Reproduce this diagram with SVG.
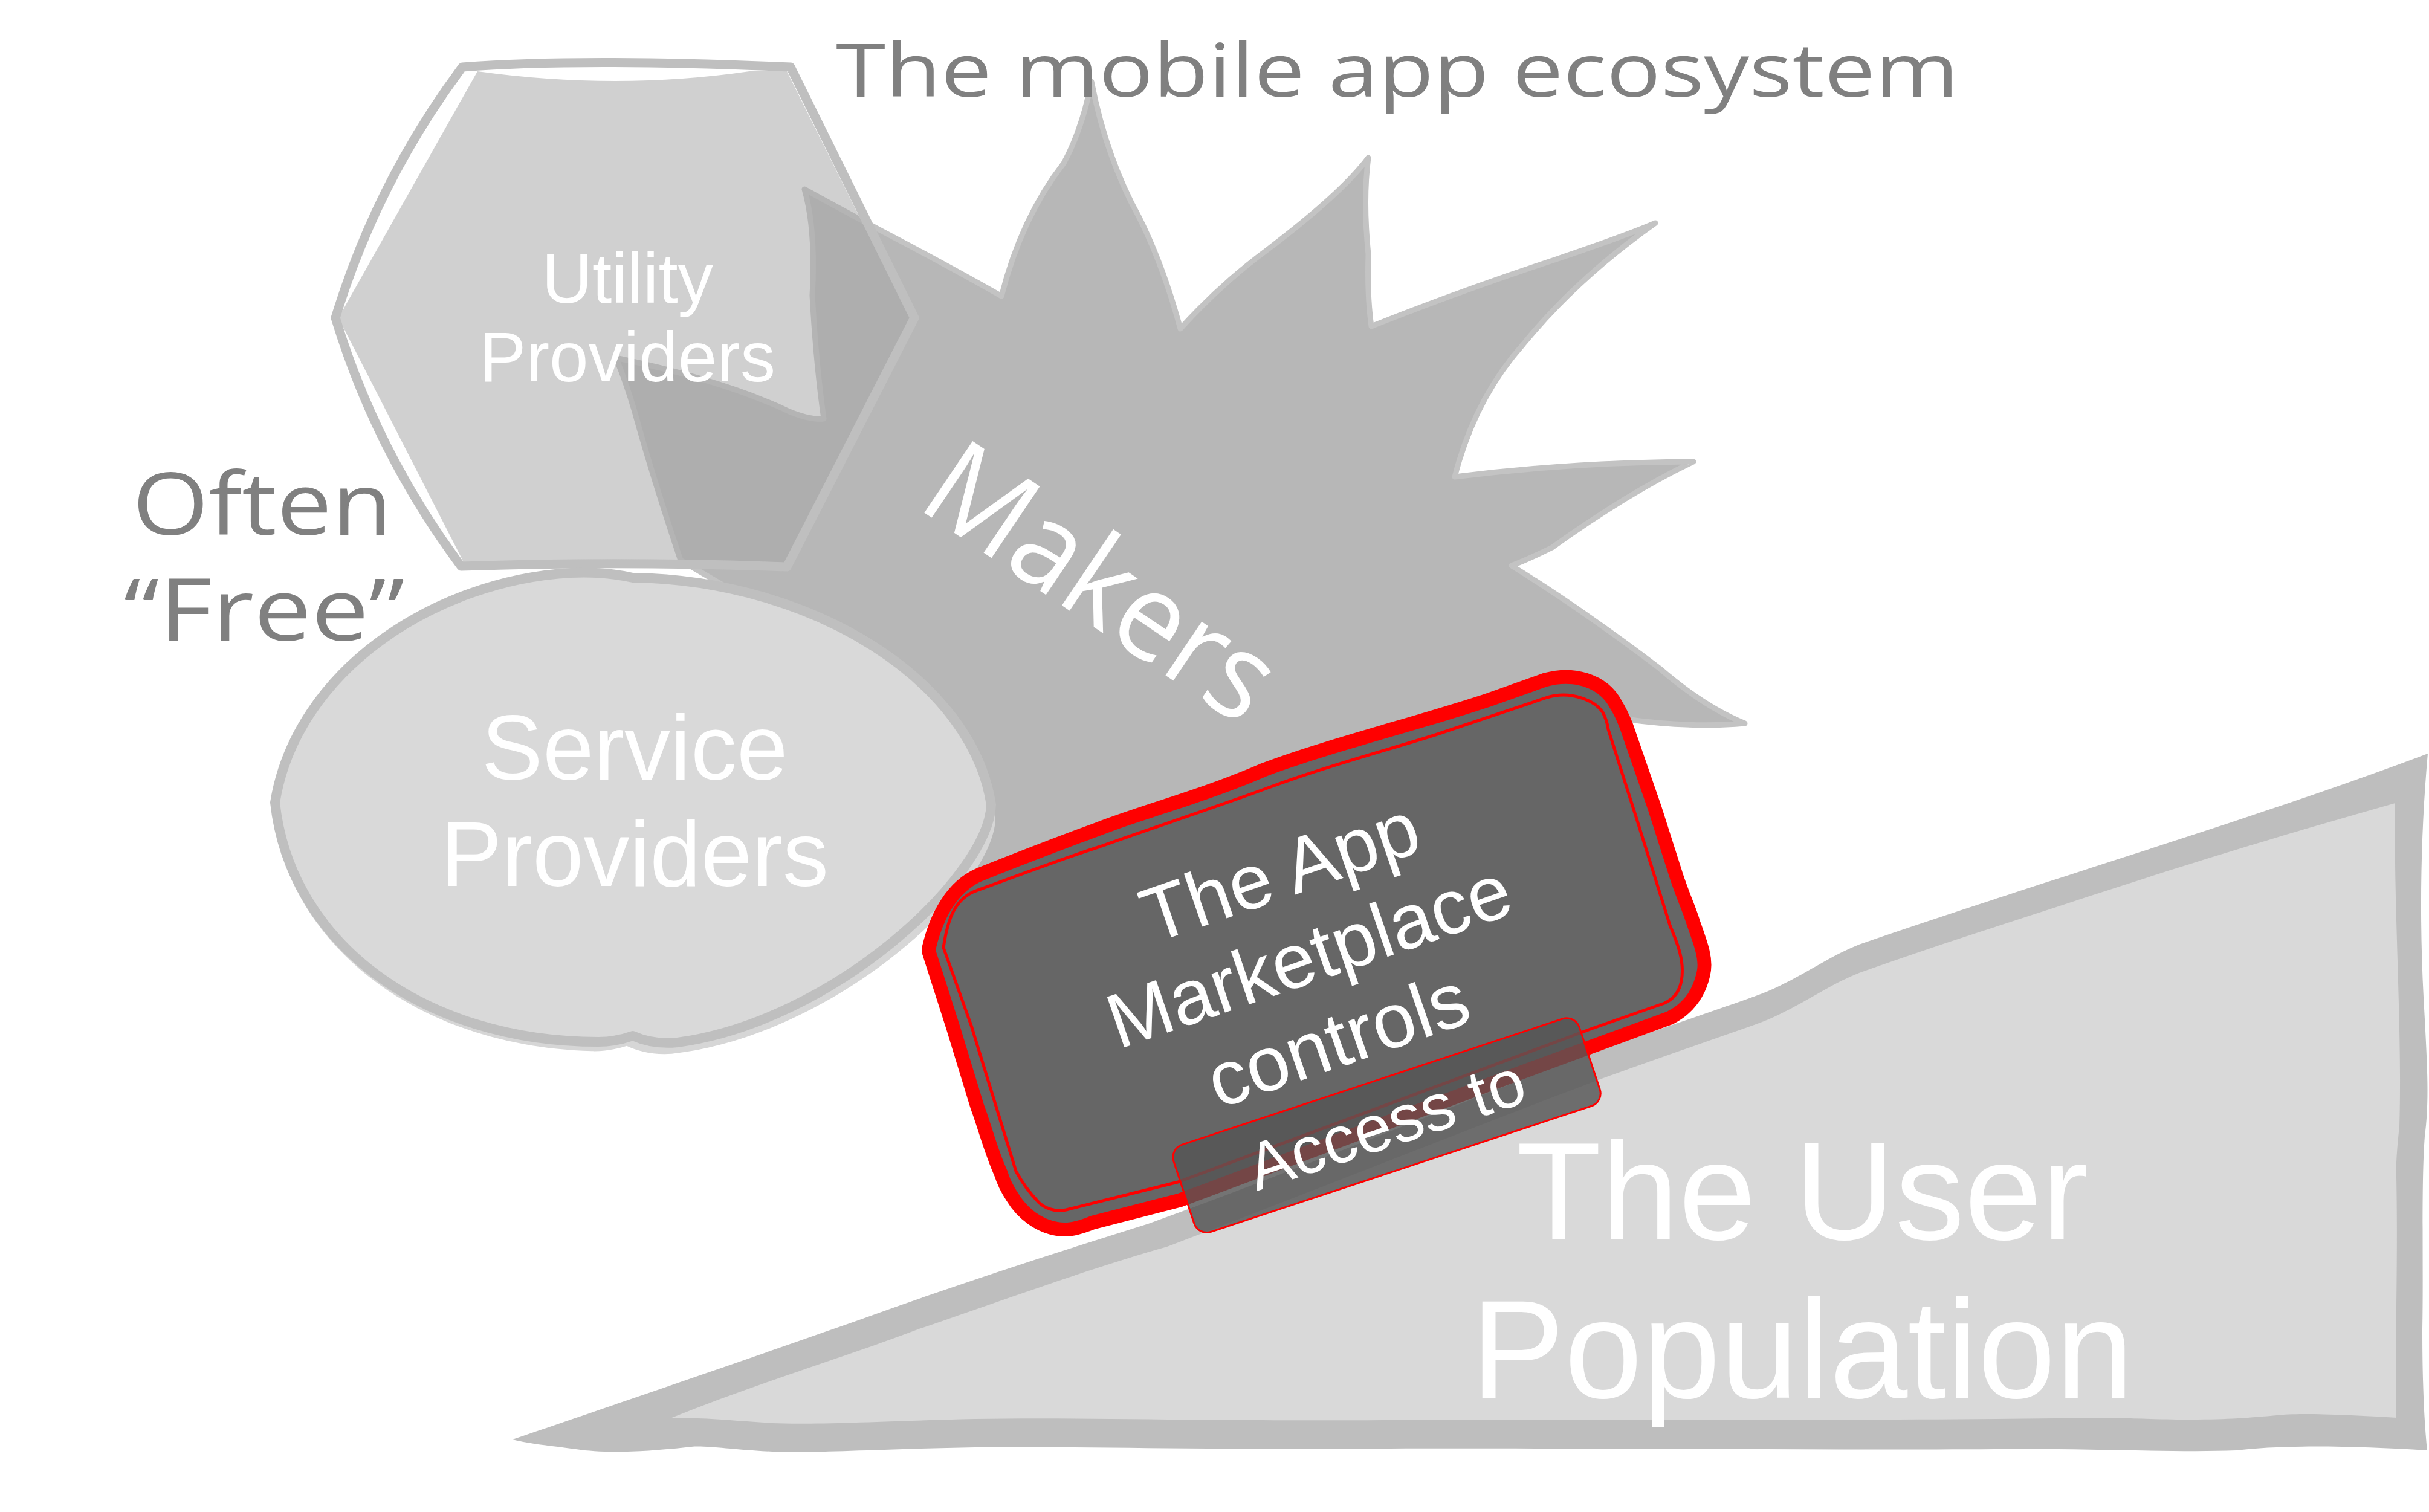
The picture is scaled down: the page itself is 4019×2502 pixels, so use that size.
<svg xmlns="http://www.w3.org/2000/svg" width="4019" height="2502" viewBox="0 0 4019 2502">
  <style>
    .hand { font-family: "Open Sans", "DejaVu Sans", sans-serif; }
    .sans { font-family: "Liberation Sans", Arial, sans-serif; }
    .note { fill: #808080; }
    .label { fill: #ffffff; }
    .soft-edge { stroke: #bfbfbf; stroke-linejoin: round; }
  </style>

  <defs>
    <path id="lens" d="M 455,1328 C 490,1110 720,960 945,948 C 990,946 1020,950 1047,956 C 1350,960 1610,1130 1640,1332
             C 1635,1450 1380,1690 1121,1725 C 1090,1728 1065,1722 1047,1714 C 1030,1720 1010,1724 990,1724
             C 700,1724 480,1560 455,1328 Z"/>
    <path id="marketplace-outline"
          d="M 1548,1572 C 1560,1520 1585,1475 1625,1458 C 1690,1432 1760,1405 1820,1383
             C 1900,1352 1990,1330 2097,1284 C 2200,1245 2360,1205 2467,1169 L 2560,1136
             C 2600,1125 2645,1135 2664,1172 C 2672,1185 2676,1195 2680,1205 L 2727,1341 L 2763,1454
             C 2775,1490 2785,1510 2791,1531 C 2805,1570 2812,1590 2807,1610 C 2800,1640 2785,1660 2758,1674
             L 2638,1718 C 2400,1805 2150,1900 1949,1975 L 1805,2012 C 1780,2022 1765,2025 1750,2022
             C 1725,2018 1700,2000 1685,1975 C 1675,1960 1670,1948 1667,1938 C 1650,1900 1640,1860 1628,1828
             L 1588,1697 Z"/>
  </defs>

  <rect x="0" y="0" width="4019" height="2502" fill="#ffffff"/>

  <!-- Makers: jagged burst behind the other shapes -->
  <g id="makers">
    <path d="M 1331,313 Q 1420,362 1504,406 Q 1590,452 1657,490
             Q 1690,360 1760,270 Q 1790,215 1806,135
             Q 1830,260 1885,360 Q 1925,440 1953,544
             Q 2020,470 2096,414 Q 2220,320 2264,261
             Q 2255,330 2264,421 Q 2262,490 2269,540
             Q 2420,480 2575,429 Q 2690,390 2739,369
             Q 2610,460 2520,570 Q 2440,660 2407,789
             Q 2600,765 2802,764
             Q 2700,812 2568,906 Q 2530,925 2501,936
             Q 2620,1010 2746,1106 Q 2820,1170 2887,1197
             Q 2800,1205 2689,1190
             L 2600,1220 L 2200,1380 L 1800,1560 L 1620,1640 L 1560,1600 L 1500,1300 L 1400,1150 L 1250,1000 L 1126,927
             Q 1080,790 1050,681 Q 1035,630 1019,592
             Q 1200,630 1306,681 Q 1340,695 1363,693
             Q 1350,600 1344,489 Q 1350,380 1331,313 Z"
          fill="#b7b7b7" stroke="#c3c3c3" stroke-width="9" stroke-linejoin="round"/>
    <text class="hand label" x="1514" y="838" font-size="200" textLength="652" lengthAdjust="spacingAndGlyphs"
          transform="rotate(34 1514 838)">Makers</text>
  </g>

  <!-- Utility Providers: translucent hexagon -->
  <g id="utility-providers">
    <path d="M 790,118 Q 1020,150 1240,118 L 1302,118 L 1505,526 L 1298,932 L 768,932 L 560,526 Z"
          fill="#a7a7a7" fill-opacity="0.535"/>
    <path d="M 765,111 Q 960,96 1308,111 L 1513,526 L 1302,938 Q 1030,928 763,937 Q 623,749 555,526 Q 624,300 765,111 Z"
          fill="none" class="soft-edge" stroke-width="15"/>
    <text class="sans label" x="1038" y="501" font-size="116" text-anchor="middle">Utility</text>
    <text class="sans label" x="1038" y="631" font-size="116" text-anchor="middle">Providers</text>
  </g>

  <!-- Service Providers: lens-shaped ellipse with a faint second outline -->
  <g id="service-providers">
    <use href="#lens" fill="#d6d6d6" transform="translate(1047 1345) scale(1.012 1.018) rotate(1.5) translate(-1047 -1335)"/>
    <use href="#lens" fill="#d9d9d9" class="soft-edge" stroke-width="16"/>
    <text class="sans label" x="1050" y="1290" font-size="152" text-anchor="middle">Service</text>
    <text class="sans label" x="1050" y="1466" font-size="152" text-anchor="middle">Providers</text>
  </g>

  <!-- The User Population: wedge with a thick wavy border -->
  <g id="user-population">
    <path d="M 848,2382 C 1000,2330 1250,2245 1450,2174 C 1600,2120 1750,2072 1900,2025
             C 2150,1935 2400,1830 2643,1739 C 2760,1698 2850,1668 2905,1648
             C 2970,1625 3020,1585 3076,1563 C 3200,1520 3340,1475 3460,1436
             C 3650,1375 3850,1310 4017,1247
             C 4005,1380 4003,1520 4010,1650 C 4016,1760 4020,1820 4012,1880
             C 4006,1960 4010,2100 4008,2200 C 4008,2300 4012,2360 4016,2400
             C 3900,2393 3780,2390 3700,2400 C 3600,2404 3450,2396 3300,2398
             C 3000,2400 2600,2396 2300,2397 C 2000,2400 1800,2393 1613,2395
             C 1450,2398 1350,2405 1278,2402 C 1200,2398 1160,2390 1135,2395
             C 1060,2403 1000,2405 953,2398 C 910,2392 880,2390 848,2382 Z"
          fill="#bebebe"/>
    <path d="M 1109,2347 C 1250,2290 1400,2245 1518,2200 C 1650,2155 1800,2100 1931,2063
             C 2150,1980 2450,1860 2661,1781 C 2760,1745 2850,1715 2905,1695
             C 2970,1672 3020,1632 3076,1610 C 3200,1565 3340,1522 3460,1482
             C 3650,1420 3800,1375 3963,1329
             C 3960,1500 3975,1700 3970,1864 C 3966,1900 3964,1930 3965,1947
             C 3968,2100 3962,2250 3965,2346
             C 3870,2340 3800,2338 3767,2342 C 3700,2348 3650,2352 3500,2346
             C 3000,2352 2600,2348 2300,2350 C 2000,2352 1800,2345 1613,2348
             C 1450,2352 1350,2358 1278,2355 C 1200,2350 1160,2345 1109,2347 Z"
          fill="#d9d9d9"/>
    <text class="sans label" x="2982" y="2051" font-size="230" text-anchor="middle">The User</text>
    <text class="sans label" x="2982" y="2313" font-size="232" text-anchor="middle">Population</text>
  </g>

  <!-- The App Marketplace: tilted box with a red double outline -->
  <g id="app-marketplace">
    <use href="#marketplace-outline" fill="none" stroke="#ff0000" stroke-width="46" stroke-linejoin="round"/>
    <use href="#marketplace-outline" fill="#666666"/>
    <path d="M 1561,1568 C 1568,1520 1580,1490 1610,1476 C 1680,1450 1760,1420 1820,1401
             C 1900,1372 2000,1340 2097,1304 C 2200,1266 2300,1240 2375,1216 L 2560,1154
             C 2600,1142 2640,1160 2652,1179 C 2658,1190 2660,1200 2661,1207 L 2708,1355 L 2763,1531
             C 2775,1560 2788,1590 2782,1623 C 2778,1645 2765,1655 2754,1660 L 2634,1702
             C 2400,1790 2150,1880 1949,1956 L 1764,2002 C 1745,2006 1728,1999 1718,1989
             C 1700,1970 1690,1955 1681,1938 L 1607,1697 Z"
          fill="none" stroke="#ff0000" stroke-width="5" stroke-linejoin="round"/>
    <g transform="translate(2180 1623) rotate(-19)">
      <text class="sans label" x="0" y="-147" font-size="128" text-anchor="middle">The App</text>
      <text class="sans label" x="0" y="0" font-size="128" text-anchor="middle">Marketplace</text>
      <text class="sans label" x="0" y="147" font-size="128" text-anchor="middle">controls</text>
    </g>
  </g>

  <!-- Access to: translucent tab over the box edge -->
  <g id="access-to" transform="translate(1935 1901) rotate(-18.3)">
    <rect x="0" y="0" width="707" height="152" rx="22" ry="22"
          fill="#555555" fill-opacity="0.82" stroke="#ff0000" stroke-width="3"/>
    <text class="sans label" x="353" y="112" font-size="110" text-anchor="middle">Access to</text>
  </g>

  <g id="connectors"/>

  <!-- Free-floating notes -->
  <g id="title">
    <text class="hand note" x="1383" y="160" font-size="122" textLength="1858" lengthAdjust="spacingAndGlyphs">The mobile app ecosystem</text>
  </g>
  <g id="often-free">
    <text class="hand note" x="434" y="885" font-size="142" text-anchor="middle" textLength="430" lengthAdjust="spacingAndGlyphs">Often</text>
    <text class="hand note" x="437" y="1060" font-size="142" text-anchor="middle" textLength="465" lengthAdjust="spacingAndGlyphs">“Free”</text>
  </g>
</svg>
